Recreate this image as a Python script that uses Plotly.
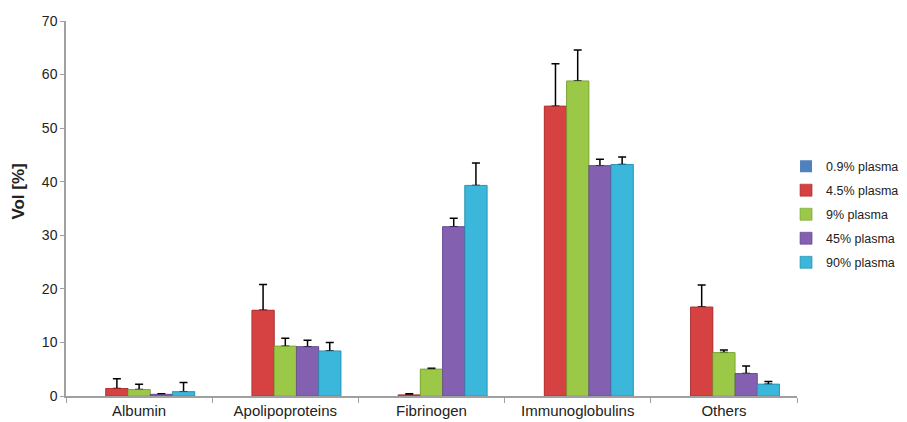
import plotly.graph_objects as go

categories = ["Albumin", "Apolipoproteins", "Fibrinogen", "Immunoglobulins", "Others"]
series_names = ["0.9% plasma", "4.5% plasma", "9% plasma", "45% plasma", "90% plasma"]
colors = ["#4F81BD", "#D64242", "#9CC848", "#8461B0", "#3AB7DB"]
lines = ["#2F5F95", "#A52A2A", "#6E9A2A", "#5E3F8A", "#1E8AAA"]
line_widths = [0, 0.6, 0.6, 0.6, 0.6]

v_09 = [0, 0, 0, 0, 0]
v_45 = [1.4, 16.0, 0.2, 54.1, 16.6]
v_9 = [1.2, 9.3, 5.0, 58.8, 8.1]
v_450 = [0.3, 9.2, 31.6, 43.0, 4.2]
v_90 = [0.8, 8.4, 39.3, 43.2, 2.2]

e_09 = None
e_45 = [1.8, 4.8, 0.2, 7.9, 4.1]
e_9 = [1.0, 1.5, 0.2, 5.8, 0.5]
e_450 = [0.1, 1.2, 1.6, 1.2, 1.4]
e_90 = [1.7, 1.6, 4.2, 1.4, 0.5]

values = [v_09, v_45, v_9, v_450, v_90]
errors = [e_09, e_45, e_9, e_450, e_90]

fig = go.Figure()
# bars carrying the (upper) error bars
for i, (name, vals, errs, col, lc, lw) in enumerate(zip(series_names, values, errors, colors, lines, line_widths)):
    kw = {}
    if errs is not None:
        kw["error_y"] = dict(type="data", array=errs, symmetric=False,
                             color="black", thickness=1.5, width=4)
    fig.add_trace(go.Bar(x=categories, y=vals, name=name, legendgroup=name,
                         offsetgroup=str(i),
                         marker=dict(color=col, line=dict(color=lc, width=lw)), **kw))
# same bars drawn again on top so that only the upper half of each error bar shows
for i, (name, vals, col, lc, lw) in enumerate(zip(series_names, values, colors, lines, line_widths)):
    fig.add_trace(go.Bar(x=categories, y=vals, name=name, legendgroup=name,
                         offsetgroup=str(i), showlegend=False, hoverinfo="skip",
                         marker=dict(color=col, line=dict(color=lc, width=lw))))

fig.add_annotation(text="<b>Vol [%]</b>", textangle=-90, xref="paper", yref="paper",
                   x=-0.0643, y=0.545, xanchor="center", yanchor="middle", showarrow=False,
                   font=dict(size=17, color="#222222"))

fig.update_layout(
    width=899, height=414,
    margin=dict(l=58, r=110, t=13, b=26, autoexpand=False),
    paper_bgcolor="white", plot_bgcolor="white",
    barmode="group", bargap=0.24, bargroupgap=0,
    font=dict(family="Liberation Sans, Arial, sans-serif", color="#222222"),
    legend=dict(x=0.985, y=0.652, xanchor="left", yanchor="top", font=dict(size=12.5),
                tracegroupgap=4.8, itemwidth=30, bgcolor="rgba(0,0,0,0)"),
    showlegend=True,
)
fig.update_xaxes(showline=True, linecolor="#A0A0A0", linewidth=1.5, ticks="outside",
                 tickson="boundaries", ticklen=5, tickcolor="#A0A0A0", automargin=False,
                 tickfont=dict(size=15, color="#222222"), showgrid=False)
fig.update_yaxes(range=[0, 70], dtick=10, showline=True, linecolor="#A0A0A0", linewidth=1.5,
                 ticks="outside", ticklen=4, tickcolor="#A0A0A0", showgrid=False, zeroline=False,
                 automargin=False, tickfont=dict(size=14, color="#222222"))

fig.write_html("out.html")
